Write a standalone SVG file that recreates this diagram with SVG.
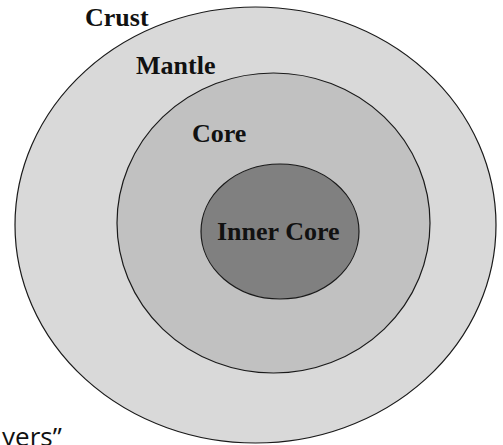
<svg xmlns="http://www.w3.org/2000/svg" width="503" height="445" viewBox="0 0 503 445">
<style>
.layer{stroke:#1a1a1a;stroke-width:1.2}
.lbl{font-family:"Liberation Serif","Times New Roman",serif;font-weight:bold;font-size:26px;fill:#111}
.cap{font-family:"Open Sans","Noto Sans",sans-serif;font-size:26px;fill:#111}
</style>
<rect width="503" height="445" fill="#ffffff"/>
<g id="crust"><ellipse class="layer" cx="255.5" cy="225" rx="240.5" ry="218" fill="#d9d9d9"/><text class="lbl" x="85" y="26">Crust</text></g>
<g id="mantle"><ellipse class="layer" cx="273.5" cy="223" rx="156.5" ry="150" fill="#c1c1c1"/><text class="lbl" x="136" y="74">Mantle</text></g>
<g id="core"><text class="lbl" x="192" y="142">Core</text></g>
<g id="inner-core"><ellipse class="layer" cx="280" cy="231.5" rx="79" ry="67.5" fill="#808080"/><text class="lbl" x="217" y="240">Inner Core</text></g>
<g id="connectors"></g>
<text class="cap" x="2" y="446">yers”</text>
</svg>
